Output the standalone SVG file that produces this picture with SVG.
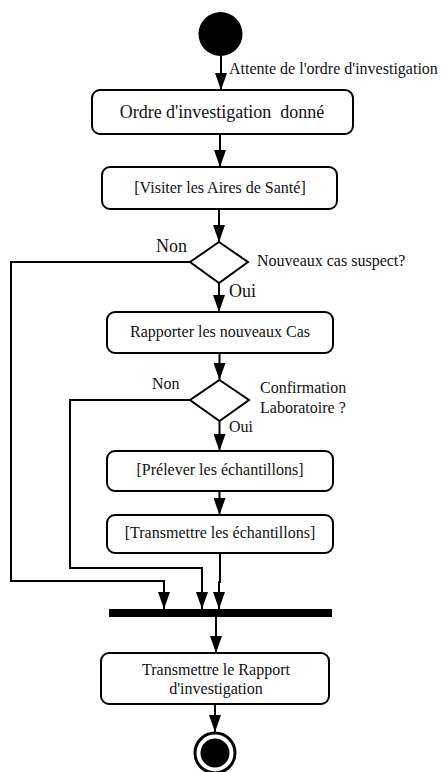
<svg xmlns="http://www.w3.org/2000/svg" width="442" height="772" viewBox="0 0 442 772">
<style>
text{font-family:"Liberation Serif","Times New Roman",serif;fill:#111;font-size:16px}
.box{fill:#fff;stroke:#000;stroke-width:2}
.ln{fill:none;stroke:#000;stroke-width:2}
.c{text-anchor:middle}
</style>
<defs>
<marker id="a" viewBox="0 0 17 12" refX="17" refY="6" markerWidth="17" markerHeight="12" markerUnits="userSpaceOnUse" orient="auto">
<path d="M0,0 L17,6 L0,12 Z" fill="#000"/>
</marker>
</defs>
<rect width="442" height="772" fill="#fff"/>
<g id="connectors">
<line class="ln" x1="221" y1="56" x2="221" y2="90" marker-end="url(#a)"/>
<line class="ln" x1="220" y1="134" x2="220" y2="167" marker-end="url(#a)"/>
<line class="ln" x1="219" y1="209" x2="219" y2="242" marker-end="url(#a)"/>
<line class="ln" x1="219" y1="283" x2="219" y2="312" marker-end="url(#a)"/>
<line class="ln" x1="219.5" y1="353" x2="219.5" y2="380" marker-end="url(#a)"/>
<line class="ln" x1="219.5" y1="421" x2="219.5" y2="451" marker-end="url(#a)"/>
<line class="ln" x1="219.5" y1="491" x2="219.5" y2="515" marker-end="url(#a)"/>
<polyline class="ln" points="220,553 220,582 219,582 219,609" marker-end="url(#a)"/>
<polyline class="ln" points="190,262 11,262 11,581 164,581 164,609" marker-end="url(#a)"/>
<polyline class="ln" points="190,400 70,400 70,568 202,568 202,609" marker-end="url(#a)"/>
<line class="ln" x1="216" y1="617" x2="216" y2="653" marker-end="url(#a)"/>
<line class="ln" x1="215" y1="704" x2="215" y2="732" marker-end="url(#a)"/>
<text x="229" y="74">Attente de l'ordre d'investigation</text>
<text x="156" y="252" style="font-size:18px">Non</text>
<text x="229" y="297" style="font-size:18px">Oui</text>
<text x="152" y="389">Non</text>
<text x="229" y="432">Oui</text>
</g>
<g id="start"><circle cx="220.5" cy="34" r="22" fill="#000"/></g>
<g id="ordre">
<rect class="box" x="92" y="90" width="261" height="44" rx="8"/>
<text class="c" x="222" y="118" style="font-size:18px;white-space:pre" xml:space="preserve">Ordre d'investigation  donné</text>
</g>
<g id="visiter">
<rect class="box" x="102" y="167" width="235" height="42" rx="8"/>
<text class="c" x="220" y="193">[Visiter les Aires de Santé]</text>
</g>
<g id="decision1">
<polygon class="box" points="219,242 248,262 219,283 190,262"/>
<text x="257" y="266">Nouveaux cas suspect?</text>
</g>
<g id="rapporter">
<rect class="box" x="107" y="312" width="226" height="41" rx="8"/>
<text class="c" x="220" y="337">Rapporter les nouveaux Cas</text>
</g>
<g id="decision2">
<polygon class="box" points="219.5,380 249,400 219.5,421 190,400"/>
<text x="260" y="393">Confirmation</text>
<text x="260" y="413">Laboratoire ?</text>
</g>
<g id="prelever">
<rect class="box" x="107" y="451" width="226" height="40" rx="8"/>
<text class="c" x="220" y="475">[Prélever les échantillons]</text>
</g>
<g id="transmettre">
<rect class="box" x="107" y="515" width="226" height="38" rx="8"/>
<text class="c" x="220" y="538">[Transmettre les échantillons]</text>
</g>
<g id="join"><rect x="109" y="609" width="223" height="8" fill="#000"/></g>
<g id="rapport">
<rect class="box" x="101" y="653" width="228" height="51" rx="8"/>
<text class="c" x="216" y="675">Transmettre le Rapport</text>
<text class="c" x="216" y="694">d'investigation</text>
</g>
<g id="end">
<circle cx="215" cy="753" r="20" fill="#fff" stroke="#000" stroke-width="3"/>
<circle cx="215" cy="753" r="14.5" fill="#000"/>
</g>
</svg>
